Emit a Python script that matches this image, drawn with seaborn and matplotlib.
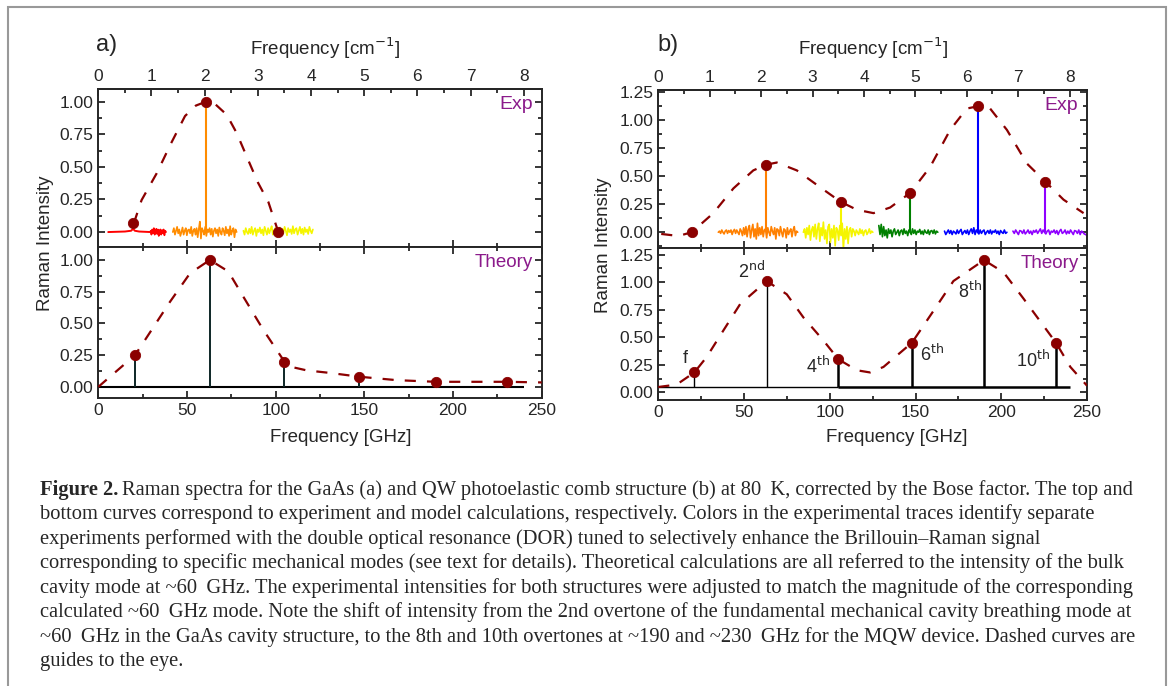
import numpy as np
import matplotlib
matplotlib.use("Agg")
import matplotlib.pyplot as plt
import seaborn as sns
from matplotlib.ticker import MultipleLocator, FormatStrFormatter
from matplotlib.patches import Rectangle

GHZ_PER_CM = 29.98

# ---------------- panel a, experiment ----------------
a_red_flat_x = [5.6, 15.0, 18.5, 19.6, 20.6, 23.0, 29.5]
a_red_flat_y = [0.0, 0.004, 0.01, 0.025, 0.01, 0.004, 0.0]
a_red_noise = [0.01, -0.02, 0.02, -0.01, 0.03, -0.02, 0.0, 0.025, -0.015, 0.02,
               -0.03, 0.01, 0.02, -0.02, 0.015, -0.01, 0.02, -0.025, 0.01, 0.0]
a_red_range = (29.5, 38.2)

a_orange_noise = [0.00, 0.03, -0.02, 0.01, 0.04, -0.01, 0.02, -0.03, 0.00, 0.035,
                  -0.02, 0.01, 0.03, -0.025, 0.015, 0.02, -0.01, 0.04, -0.03, 0.01,
                  0.025, -0.02, 0.03, -0.04, 0.02, 0.08, -0.05, 0.03, 0.01, -0.02,
                  0.04, -0.03, 0.02, 0.00, 0.03, -0.02, 0.025, -0.035, 0.01, 0.03,
                  -0.01, 0.02, -0.03, 0.035, 0.00, -0.02, 0.03, 0.01, -0.025, 0.04,
                  -0.01, 0.02, -0.03, 0.045, -0.02, 0.01, 0.03, -0.04, 0.02, 0.00]
a_orange_range = (42.0, 78.0)
a_orange_peak = (60.7, 1.0)

a_yellow_noise = [0.01, -0.02, 0.03, 0.00, -0.015, 0.025, -0.01, 0.04, -0.02, 0.01,
                  0.03, -0.03, 0.02, 0.00, 0.035, -0.01, 0.02, -0.025, 0.04, 0.01,
                  -0.02, 0.03, -0.01, 0.02, 0.045, -0.02, 0.01, 0.03, -0.015, 0.02,
                  0.00, 0.035, -0.02, 0.025, -0.01, 0.04, 0.01, -0.025, 0.03, 0.00,
                  0.02, -0.015, 0.045, -0.01, 0.02, 0.03, -0.02, 0.01, 0.04, -0.01,
                  0.025, -0.02, 0.035, 0.00, 0.02, -0.015, 0.04, 0.01, -0.01, 0.02]
a_yellow_range = (81.8, 121.0)

a_exp_dot_x = [19.7, 60.7, 101.5]
a_exp_dot_y = [0.066, 1.0, 0.0]
a_exp_guide_x = [20, 24.4, 32.9, 41, 48.9, 55, 60.7, 66, 72.4, 78, 84.6, 90, 95.9, 101.5]
a_exp_guide_y = [0.066, 0.245, 0.45, 0.68, 0.89, 0.97, 1.0, 0.98, 0.90, 0.76, 0.55, 0.38, 0.23, 0.0]

# ---------------- panel a, theory ----------------
a_th_x = [20.7, 62.9, 104.9, 147.2, 190.2, 230.2]
a_th_y = [0.25, 1.0, 0.20, 0.08, 0.04, 0.04]
a_th_base = (0.0, 240.0)
a_th_guide_x = [0, 6.6, 20.7, 27.3, 40.4, 51.7, 62.9, 73.3, 81.8, 93, 104.9, 108, 117.5,
                130.6, 147.2, 168.2, 190.2, 215, 230.2, 250]
a_th_guide_y = [0.0, 0.08, 0.25, 0.39, 0.67, 0.895, 1.0, 0.91, 0.71, 0.45, 0.20, 0.16, 0.13,
                0.11, 0.08, 0.053, 0.04, 0.04, 0.04, 0.035]

# ---------------- panel b, experiment ----------------
b_orange_noise = [0.00, 0.01, -0.01, 0.02, 0.00, -0.015, 0.01, 0.02, -0.01, 0.015,
                  0.00, 0.02, -0.02, 0.01, 0.025, -0.01, 0.02, 0.00, -0.02, 0.03,
                  0.01, -0.03, 0.04, -0.02, 0.05, -0.04, 0.03, 0.06, -0.05, 0.02,
                  0.07, -0.04, 0.03, -0.06, 0.08, -0.03, 0.04, -0.02, 0.05, -0.04,
                  0.02, 0.03, -0.05, 0.04, 0.00, -0.03, 0.05, 0.01, -0.02, 0.04,
                  -0.06, 0.03, 0.02, -0.03, 0.05, 0.00, -0.04, 0.03, 0.02, -0.05,
                  0.04, -0.02, 0.01, 0.03, -0.04, 0.02, 0.05, -0.03, 0.01, 0.00]
b_orange_range = (35.0, 81.3)
b_orange_peak = (62.7, 0.60)

b_yellow_noise = [0.00, 0.03, -0.05, 0.04, -0.02, 0.06, -0.07, 0.02, 0.05, -0.04,
                  0.07, -0.06, 0.03, 0.08, -0.08, 0.04, -0.03, 0.09, -0.06, 0.02,
                  -0.10, 0.05, 0.07, -0.09, 0.03, -0.05, 0.06, -0.12, 0.04, 0.02,
                  -0.07, 0.06, -0.03, 0.08, -0.15, 0.03, -0.06, 0.05, -0.10, 0.02,
                  0.04, -0.04, 0.03, 0.01, -0.03, 0.02, 0.00, -0.02, 0.03, -0.01,
                  0.02, -0.03, 0.01, 0.02, -0.02, 0.00, 0.03, -0.01, 0.01, 0.00]
b_yellow_range = (84.6, 125.1)
b_yellow_peak = (106.4, 0.27)

b_green_noise = [0.06, -0.02, 0.07, -0.04, 0.05, -0.03, 0.02, -0.05, 0.03, -0.01,
                 0.02, -0.04, 0.01, 0.03, -0.02, 0.00, 0.02, -0.03, 0.01, 0.02,
                 -0.02, 0.03, -0.01, 0.01, -0.03, 0.02, 0.00, -0.02, 0.03, -0.01,
                 0.02, -0.02, 0.01, 0.00, 0.025, -0.015, 0.01, -0.02, 0.02, 0.00,
                 -0.01, 0.02, -0.02, 0.01, 0.015, -0.01, 0.02, -0.015, 0.01, 0.00]
b_green_range = (128.6, 163.0)
b_green_peak = (146.9, 0.35)

b_blue_noise = [0.01, -0.02, 0.00, 0.02, -0.01, 0.015, -0.02, 0.01, 0.00, -0.015,
                0.02, -0.01, 0.01, 0.025, -0.02, 0.00, 0.015, -0.01, 0.02, -0.02,
                0.01, 0.03, -0.01, 0.04, -0.02, 0.02, 0.00, -0.015, 0.02, -0.01,
                0.01, 0.02, -0.02, 0.00, 0.015, -0.01, 0.02, -0.015, 0.01, 0.00,
                0.02, -0.01, 0.01, -0.02, 0.015, 0.00, -0.01, 0.02, -0.01, 0.00]
b_blue_range = (166.9, 203.3)
b_blue_peak = (186.2, 1.12)

b_purple_noise = [0.01, -0.01, 0.02, 0.00, -0.02, 0.015, 0.01, -0.01, 0.02, -0.015,
                  0.00, 0.02, -0.01, 0.01, -0.02, 0.015, 0.00, 0.02, -0.01, 0.01,
                  0.03, -0.01, 0.02, 0.00, -0.015, 0.01, 0.02, -0.02, 0.01, 0.00,
                  0.02, -0.01, 0.015, -0.02, 0.01, 0.025, -0.01, 0.00, 0.02, -0.015,
                  0.01, -0.01, 0.02, 0.00, -0.02, 0.015, 0.01, -0.01, 0.02, -0.02,
                  0.01, 0.00, -0.015, -0.02, -0.03]
b_purple_range = (206.8, 250.0)
b_purple_peak = (225.7, 0.45)

b_exp_dot_x = [19.5, 62.7, 106.4, 146.9, 186.2, 225.7]
b_exp_dot_y = [0.0, 0.60, 0.27, 0.35, 1.12, 0.45]
b_exp_guide_x = [1.7, 11.7, 19.5, 32.1, 43.8, 55.4, 62.7, 69.1, 80.8, 94.4, 106.4, 115.8,
                 125.5, 135.2, 146.9, 158.5, 170.2, 179.9, 186.2, 193.5, 203.3, 215,
                 225.7, 236.3, 248]
b_exp_guide_y = [-0.015, -0.033, 0.0, 0.17, 0.39, 0.55, 0.60, 0.62, 0.55, 0.40, 0.27, 0.20,
                 0.17, 0.22, 0.35, 0.58, 0.91, 1.10, 1.12, 1.10, 0.91, 0.61, 0.45, 0.29, 0.17]

# ---------------- panel b, theory ----------------
b_th_x = [21.0, 63.2, 105.0, 147.9, 189.9, 231.9]
b_th_y = [0.18, 1.01, 0.30, 0.45, 1.20, 0.45]
b_th_lw = [1.0, 1.0, 1.8, 1.8, 1.8, 1.8]
b_th_labels = ["f", "2$^{\\mathrm{nd}}$", "4$^{\\mathrm{th}}$", "6$^{\\mathrm{th}}$",
               "8$^{\\mathrm{th}}$", "10$^{\\mathrm{th}}$"]
b_th_label_x = [15.6, 54.5, 93.4, 159.5, 181.9, 218.8]
b_th_label_y = [0.31, 1.10, 0.24, 0.35, 0.92, 0.29]
b_th_base = 0.048
b_th_guide_x = [0, 10.7, 21, 28.2, 37.9, 47.7, 63.2, 74.9, 84.6, 96.3, 105, 115.8, 123.5,
                131.3, 147.9, 160.5, 172.1, 189.9, 201.3, 213, 231.9, 240.3, 250]
b_th_guide_y = [0.048, 0.07, 0.18, 0.32, 0.56, 0.80, 1.01, 0.89, 0.68, 0.47, 0.30, 0.20, 0.18,
                0.23, 0.45, 0.74, 1.01, 1.20, 1.09, 0.85, 0.45, 0.23, 0.06]

caption_lines = [
    "Raman spectra for the GaAs (a) and QW photoelastic comb structure (b) at 80\u2009 K, corrected by the Bose factor. The top and",
    "bottom curves correspond to experiment and model calculations, respectively. Colors in the experimental traces identify separate",
    "experiments performed with the double optical resonance (DOR) tuned to selectively enhance the Brillouin\u2013Raman signal",
    "corresponding to specific mechanical modes (see text for details). Theoretical calculations are all referred to the intensity of the bulk",
    "cavity mode at ~60\u2009 GHz. The experimental intensities for both structures were adjusted to match the magnitude of the corresponding",
    "calculated ~60\u2009 GHz mode. Note the shift of intensity from the 2nd overtone of the fundamental mechanical cavity breathing mode at",
    "~60\u2009 GHz in the GaAs cavity structure, to the 8th and 10th overtones at ~190 and ~230\u2009 GHz for the MQW device. Dashed curves are",
    "guides to the eye.",
]

DOT = "#8b0000"
LABEL_PURPLE = "#8b1a8b"

sns.set_style("ticks")
plt.rcParams["font.family"] = ["Liberation Sans", "DejaVu Sans"]

fig = plt.figure(figsize=(11.71, 6.86), dpi=100)
W, H = 1171.0, 686.0


def px_axes(left, top, right, bottom):
    return fig.add_axes([left / W, 1 - bottom / H, (right - left) / W, (bottom - top) / H])


def style_axes(ax, ylim, yticks):
    ax.set_xlim(0, 250)
    ax.set_ylim(*ylim)
    ax.set_yticks(yticks)
    ax.yaxis.set_major_formatter(FormatStrFormatter("%.2f"))
    ax.yaxis.set_minor_locator(MultipleLocator(0.125))
    ax.xaxis.set_major_locator(MultipleLocator(50))
    ax.xaxis.set_minor_locator(MultipleLocator(25))
    ax.tick_params(which="both", direction="in", right=True, top=True, width=1.3, labelsize=12.5)
    ax.tick_params(which="major", length=5)
    ax.tick_params(which="minor", length=3)
    for s in ax.spines.values():
        s.set_linewidth(1.4)
    ax.set_xlabel("")
    ax.set_ylabel("")


def add_top_axis(ax):
    ax.tick_params(which="both", top=False, labelbottom=False)
    sec = ax.secondary_xaxis("top", functions=(lambda x: x / GHZ_PER_CM, lambda x: x * GHZ_PER_CM))
    sec.xaxis.set_major_locator(MultipleLocator(1))
    sec.xaxis.set_minor_locator(MultipleLocator(0.5))
    sec.tick_params(which="both", direction="in", width=1.3, labelsize=12.5)
    sec.tick_params(which="major", length=5)
    sec.tick_params(which="minor", length=3)
    sec.spines["top"].set_linewidth(1.4)


def trace(ax, rng, noise, color, peak=None):
    x = np.linspace(rng[0], rng[1], len(noise))
    sns.lineplot(x=x, y=noise, ax=ax, color=color, lw=1.2, estimator=None, sort=False)
    if peak is not None:
        ax.vlines(peak[0], 0, peak[1], color=color, lw=1.5, zorder=3)


def guide(ax, xs, ys):
    sns.lineplot(x=xs, y=ys, ax=ax, color=DOT, lw=1.6, estimator=None, sort=False,
                 linestyle=(0, (5, 5)), zorder=4)


def dots(ax, xs, ys):
    sns.scatterplot(x=xs, y=ys, ax=ax, color=DOT, s=55, edgecolor=DOT, zorder=6)


# ---------------- panel a ----------------
ax_at = px_axes(98.3, 89.3, 541.7, 247.3)
ax_ab = px_axes(98.3, 247.3, 541.7, 398.3)

sns.lineplot(x=a_red_flat_x, y=a_red_flat_y, ax=ax_at, color="#ff0000", lw=1.4, estimator=None, sort=False)
trace(ax_at, a_red_range, a_red_noise, "#ff0000")
trace(ax_at, a_orange_range, a_orange_noise, "#ff8c00", a_orange_peak)
trace(ax_at, a_yellow_range, a_yellow_noise, "#f5f500")
guide(ax_at, a_exp_guide_x, a_exp_guide_y)
dots(ax_at, a_exp_dot_x, a_exp_dot_y)
style_axes(ax_at, (-0.117, 1.095), [0, 0.25, 0.5, 0.75, 1.0])
add_top_axis(ax_at)

ax_ab.hlines(0.0, a_th_base[0], a_th_base[1], color="black", lw=1.5, zorder=2)
ax_ab.vlines(a_th_x, 0.0, a_th_y, color="#0d2626", lw=1.4, zorder=3)
guide(ax_ab, a_th_guide_x, a_th_guide_y)
dots(ax_ab, a_th_x, a_th_y)
style_axes(ax_ab, (-0.09, 1.10), [0, 0.25, 0.5, 0.75, 1.0])

# ---------------- panel b ----------------
ax_bt = px_axes(658.3, 90.0, 1087.0, 248.0)
ax_bb = px_axes(658.3, 248.0, 1087.0, 400.0)

trace(ax_bt, b_orange_range, b_orange_noise, "#ff8000", b_orange_peak)
trace(ax_bt, b_yellow_range, b_yellow_noise, "#f5f500", b_yellow_peak)
trace(ax_bt, b_green_range, b_green_noise, "#008000", b_green_peak)
trace(ax_bt, b_blue_range, b_blue_noise, "#0000ff", b_blue_peak)
trace(ax_bt, b_purple_range, b_purple_noise, "#8f00ff", b_purple_peak)
guide(ax_bt, b_exp_guide_x, b_exp_guide_y)
dots(ax_bt, b_exp_dot_x, b_exp_dot_y)
style_axes(ax_bt, (-0.14, 1.265), [0, 0.25, 0.5, 0.75, 1.0, 1.25])
add_top_axis(ax_bt)

ax_bb.hlines(b_th_base, 0, b_th_x[2], color="black", lw=1.0, zorder=2)
ax_bb.hlines(b_th_base, b_th_x[2], 240, color="black", lw=1.8, zorder=2)
ax_bb.vlines(b_th_x, b_th_base, b_th_y, color="black", lw=b_th_lw, zorder=3)
guide(ax_bb, b_th_guide_x, b_th_guide_y)
dots(ax_bb, b_th_x, b_th_y)
for lab, lx, ly in zip(b_th_labels, b_th_label_x, b_th_label_y):
    ax_bb.text(lx, ly, lab, ha="center", va="center", fontsize=13)
style_axes(ax_bb, (-0.07, 1.31), [0, 0.25, 0.5, 0.75, 1.0, 1.25])

# ---------------- labels ----------------
for ax in (ax_at, ax_bt):
    ax.text(0.98, 0.905, "Exp", transform=ax.transAxes, ha="right", va="center",
            color=LABEL_PURPLE, fontsize=14)
for ax in (ax_ab, ax_bb):
    ax.text(0.98, 0.90, "Theory", transform=ax.transAxes, ha="right", va="center",
            color=LABEL_PURPLE, fontsize=13.5)

fig.text(45 / W, 1 - 243 / H, "Raman Intensity", rotation=90, ha="center", va="center", fontsize=13.5)
fig.text(604 / W, 1 - 245 / H, "Raman Intensity", rotation=90, ha="center", va="center", fontsize=13.5)
fig.text(325 / W, 1 - 48 / H, "Frequency [cm$^{-1}$]", ha="center", va="center", fontsize=13.5)
fig.text(873 / W, 1 - 48 / H, "Frequency [cm$^{-1}$]", ha="center", va="center", fontsize=13.5)
fig.text(341 / W, 1 - 437 / H, "Frequency [GHz]", ha="center", va="center", fontsize=13.5)
fig.text(897 / W, 1 - 437 / H, "Frequency [GHz]", ha="center", va="center", fontsize=13.5)
fig.text(107 / W, 1 - 45 / H, "a)", ha="center", va="center", fontsize=17)
fig.text(668 / W, 1 - 45 / H, "b)", ha="center", va="center", fontsize=17)

# ---------------- frame and caption ----------------
fig.patches.append(Rectangle((8 / W, -0.01), (1166 - 8) / W, 1 - 7 / H + 0.01,
                             transform=fig.transFigure, fill=False, edgecolor="#999999", lw=1.5))

cap_font = ["Liberation Serif", "DejaVu Serif"]
cap_size = 14.75
renderer = fig.canvas.get_renderer()
head = fig.text(40 / W, 1 - 490 / H, "Figure 2.", family=cap_font, fontweight="bold",
                fontsize=cap_size, va="center", ha="left")
hw = head.get_window_extent(renderer).width
for i, line in enumerate(caption_lines):
    x0 = 40 + (hw + 4 if i == 0 else 0)
    fig.text(x0 / W, 1 - (490 + 24.5 * i) / H, line, family=cap_font, fontsize=cap_size,
             va="center", ha="left")

fig.savefig("out.png", dpi=100)
